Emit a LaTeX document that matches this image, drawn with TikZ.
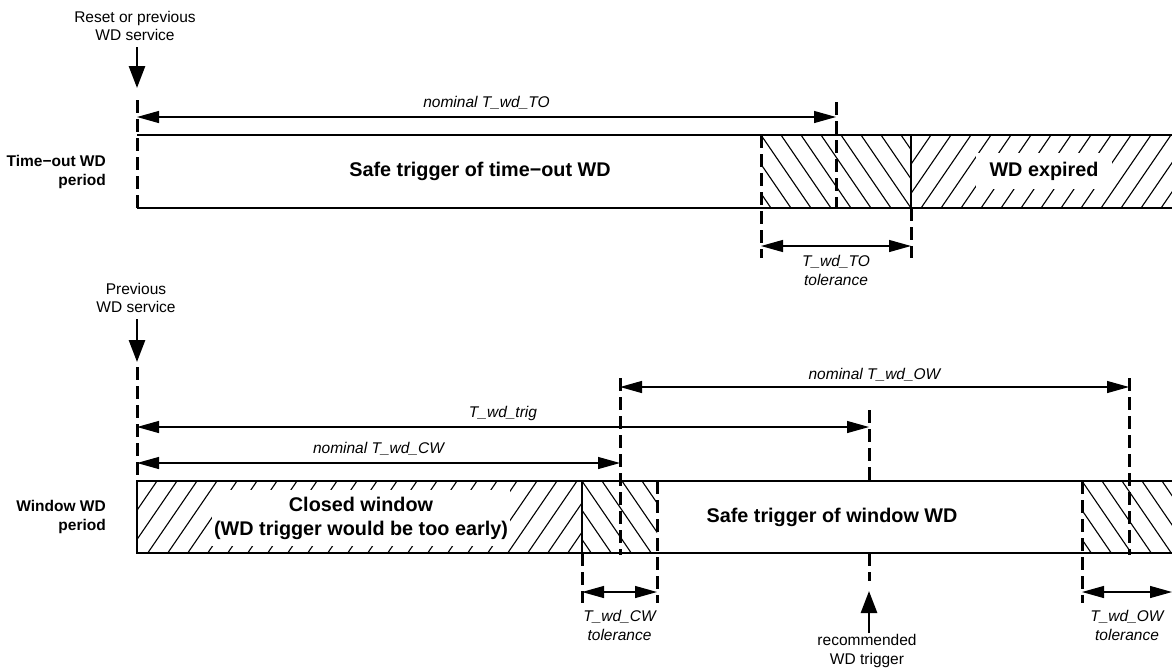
\documentclass[tikz,border=0pt]{standalone}
\usepackage{fontspec}
\setmainfont{Liberation Sans}
\usetikzlibrary{arrows.meta}
\tikzset{
  rim/.style={line width=1.2pt},
  hatchline/.style={line width=1.1pt},
  dashmark/.style={line width=3pt,dash pattern=on 13pt off 6pt},
  span/.style={rim,{Triangle[length=22pt,width=12pt]}-{Triangle[length=22pt,width=12pt]}},
  event/.style={line width=2.8pt,-{Triangle[length=22pt,width=16pt]}},
  note/.style={font=\fontsize{15.5}{18.5}\selectfont,align=center,inner sep=0pt},
  inote/.style={note,font=\fontsize{15.5}{19}\selectfont\itshape},
  side/.style={font=\fontsize{15.5}{19.5}\selectfont\bfseries,align=right,anchor=east,inner sep=0pt},
  phase/.style={font=\fontsize{19.8}{24}\selectfont\bfseries,align=center},
}
\begin{document}
\begin{tikzpicture}[x=1pt,y=-1pt]
\useasboundingbox (0,0) rectangle (1172,670);
\pgfmathsetmacro{\yTa}{135}
\pgfmathsetmacro{\yTb}{208}
\pgfmathsetmacro{\yWa}{481}
\pgfmathsetmacro{\yWb}{553}
% hatched zones
\foreach \xa/\xb/\ya/\yb/\s in {761/911/\yTa/\yTb/1,911/1172/\yTa/\yTb/-1,137/582/\yWa/\yWb/-1,582/657/\yWa/\yWb/1,1082/1172/\yWa/\yWb/1}{
  \begin{scope}
    \clip (\xa,\ya) rectangle (\xb,\yb);
    \foreach \k in {-3,...,28}
      \draw[hatchline] (\xa+\k*20,\ya)--++(\s*52,76);
  \end{scope}
}
% time-out WD
\node[note] (rst) at (135,26) {Reset or previous\\WD service};
\coordinate (rstA) at (137,47);
\coordinate (rstB) at (137,88);
\draw[event] (rstA)--(rstB);
\draw[rim] (137,\yTa)--(1172,\yTa) (137,\yTb)--(1172,\yTb);
\draw[rim,line width=1.6pt] (911,\yTa)--(911,\yTb);
\draw[dashmark] (137,100)--(137,\yTb);
\draw[dashmark] (836,102)--(836,\yTb);
\draw[dashmark] (761,\yTa)--(761,258);
\draw[dashmark] (911,\yTb)--(911,258);
\coordinate (toL) at (137,117);
\coordinate (toR) at (836,117);
\draw[span] (toL)--(toR)node[inote,midway,yshift=14pt]{nominal T\_wd\_TO};
\coordinate (totL) at (761,246);
\coordinate (totR) at (911,246);
\draw[span] (totL)--(totR)node[inote,midway,yshift=-24pt]{T\_wd\_TO\\tolerance};
\node[side] (toSide) at (106,172) {Time−out WD\\period};
\node[phase] (toSafe) at (480,171) {Safe trigger of time−out WD};
\node[phase,fill=white,inner xsep=14pt,inner ysep=9pt] (toExp) at (1044,171) {WD expired};
% window WD
\node[note] (prev) at (136,298) {Previous\\WD service};
\coordinate (prevA) at (137,319);
\coordinate (prevB) at (137,362);
\draw[event] (prevA)--(prevB);
\draw[rim] (1172,\yWa)-|(137,\yWb)--(1172,\yWb);
\draw[rim] (582,\yWa)--(582,\yWb);
\draw[dashmark] (137,367)--(137,\yWa);
\draw[dashmark] (620,378)--(620,555);
\draw[dashmark] (1129,378)--(1129,555);
\draw[dashmark] (869,410)--(869,\yWa);
\draw[dashmark] (869,\yWb)--(869,581);
\draw[dashmark] (582,\yWb)--(582,603);
\draw[dashmark] (657,\yWa)--(657,603);
\draw[dashmark] (1082,\yWa)--(1082,603);
\coordinate (owL) at (620,387);
\coordinate (owR) at (1129,387);
\draw[span] (owL)--(owR)node[inote,midway,yshift=12pt]{nominal T\_wd\_OW};
\coordinate (trL) at (137,427);
\coordinate (trR) at (869,427);
\draw[span] (trL)--(trR)node[inote,midway,yshift=14pt]{T\_wd\_trig};
\coordinate (cwL) at (137,463);
\coordinate (cwR) at (620,463);
\draw[span] (cwL)--(cwR)node[inote,midway,yshift=14pt]{nominal T\_wd\_CW};
\coordinate (cwtL) at (582,592);
\coordinate (cwtR) at (657,592);
\draw[span] (cwtL)--(cwtR)node[inote,midway,yshift=-33pt]{T\_wd\_CW\\tolerance};
\coordinate (owtL) at (1082,592);
\coordinate (owtR) at (1172,592);
\draw[span] (owtL)--(owtR)node[inote,midway,yshift=-33pt]{T\_wd\_OW\\tolerance};
\coordinate (recA) at (869,633);
\coordinate (recB) at (869,591);
\draw[event] (recA)--(recB);
\node[note] (rec) at (867,651) {recommended\\WD trigger};
\node[side] (winSide) at (106,517) {Window WD\\period};
\node[phase,fill=white,inner xsep=2pt,inner ysep=7pt] (winClosed) at (361,518) {Closed window\\(WD trigger would be too early)};
\node[phase] (winSafe) at (832,517) {Safe trigger of window WD};
\end{tikzpicture}
\end{document}
